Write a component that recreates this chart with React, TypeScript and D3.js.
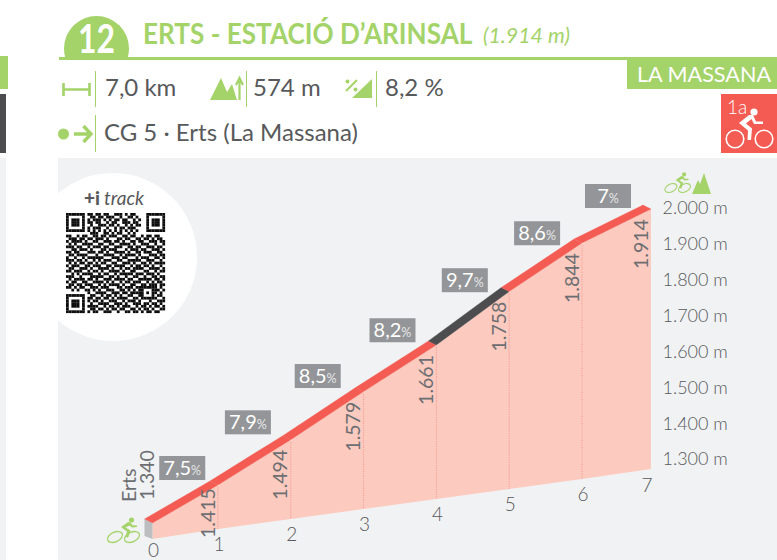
import React from "react";
import * as d3 from "d3";

const kms = [0, 1, 2, 3, 4, 5, 6, 7];
const elevations = [1340, 1415, 1494, 1579, 1661, 1758, 1844, 1914];
const elevationLabels = ["1.340", "1.415", "1.494", "1.579", "1.661", "1.758", "1.844", "1.914"];
const gradients = ["7,5", "7,9", "8,5", "8,2", "9,7", "8,6", "7"];
const axisValues = [2000, 1900, 1800, 1700, 1600, 1500, 1400, 1300];
const axisLabels = ["2.000 m", "1.900 m", "1.800 m", "1.700 m", "1.600 m", "1.500 m", "1.400 m", "1.300 m"];
const hardSegment = 4;

const qrRows = [
  "0000000011011011001110101100000000000",
  "0000000001101101110010011010000000000",
  "0000000010111010101101100101000000000",
  "0000000011011001011001110110000000000",
  "0000000001001110110100101011000000000",
  "0000000010111001001011011100000000000",
  "0000000010101010101010101010000000000",
  "0000000001110011010110010100000000000",
  "1100101100110110111001101100101101100",
  "0111011011011101000110110011011010110",
  "1011110100110011101101001101100111011",
  "0101001111001100110011110100111001001",
  "1110110010111011001110011011001110110",
  "0011011101000110111000101110110011101",
  "1101100011101101001111010011011100110",
  "0110111100010011110010111101000111011",
  "1001001011111100011101100010111001101",
  "1110110100101011100110011111001110010",
  "0101011011010110011001110100110101111",
  "1011100110111001101111001011011010010",
  "0110011101001111010010110111100111101",
  "1101110010110100111101001100011001011",
  "0010101111001011001011111011101110100",
  "1110010001111100110100100110010011011",
  "0101111011010011101111011001111101101",
  "1011001100111101010010110111001010110",
  "0110110111001010111101001100110111011",
  "1101011001110111000110111011111111010",
  "0010100110101001110011010101100011101",
  "0000000010011110011101101111101011010",
  "0000000001100101101010011001100010110",
  "0000000011011011010111100110111111001",
  "0000000010110100111001011101000100111",
  "0000000001001111001110100111011011010",
  "0000000011110010110101110010110101101",
  "0000000001101101011011001101011010011",
  "0000000010110011100100110110101101100",
];

const GREEN = "#A4D369";
const RED = "#F45B52";
const TEXT = "#58595B";
const FONT = "Lato, sans-serif";

const xKm = d3.scaleLinear().domain([0, 1, 6, 7]).range([152.5, 218, 582, 651]);
const baseY = d3.scaleLinear().domain([0, 7]).range([539, 469]);
const lift = d3.scaleLinear().domain([1340, 1415, 1844, 1914]).range([16, 44, 236, 260]);
const axisY = d3.scaleLinear().domain([1300, 2000]).range([459, 208]);
const topY = (i: number) => baseY(kms[i]) - lift(elevations[i]);
const BACK: [number, number] = [-8, -4];
const boxDx = [-3, -6.5, -9.5, -7.5, -8, -8.5, -8.5];
const boxDy = [-36, -40, -39.6, -38, -38, -34, -30];

function Bike({ x, y, s = 1, color = GREEN, sw = 1.3 }: any) {
  const wheel = (cx: number) => (
    <ellipse cx={cx} cy={20} rx={8} ry={4.8} transform={`rotate(-25 ${cx} 20)`} fill="none" stroke={color} strokeWidth={sw} />
  );
  return (
    <g transform={`translate(${x},${y}) scale(${s})`}>
      {wheel(8)}
      {wheel(25)}
      <circle cx={24.5} cy={3} r={2.6} fill={color} />
      <path d="M21 5 L14 10 L20 14.5 L18.5 20 L21.2 20.5 L23.5 13.5 L18.5 10.5 L22.5 8.5 L25 10.5 L30 10 L30 8.5 L25.5 8.3 L23.5 5.5 Z" fill={color} />
    </g>
  );
}

function Qr() {
  const n = qrRows.length;
  const sx = d3.scaleBand<number>().domain(d3.range(n)).range([66, 165]);
  const sy = d3.scaleBand<number>().domain(d3.range(n)).range([213, 313]);
  const isFinder = (r: number, c: number) => {
    if (r < 0 || c < 0 || r > 7 || c > 7) return null;
    if (r === 7 || c === 7) return false;
    if (r === 0 || c === 0 || r === 6 || c === 6) return true;
    return r >= 2 && r <= 4 && c >= 2 && c <= 4;
  };
  const cells: React.ReactNode[] = [];
  qrRows.forEach((row, r) => {
    row.split("").forEach((ch, c) => {
      let on = ch === "1";
      const a = isFinder(r, c);
      const b = isFinder(r, n - 1 - c);
      const d = isFinder(n - 1 - r, c);
      const f = a !== null ? a : b !== null ? b : d !== null ? d : null;
      if (f !== null) on = f;
      if (on) cells.push(<rect key={`${r}-${c}`} x={sx(c)} y={sy(r)} width={sx.bandwidth() + 0.1} height={sy.bandwidth() + 0.1} fill="#111" />);
    });
  });
  return <g filter="url(#qrblur)">{cells}</g>;
}

export default function App() {
  const fillArea = d3.area<number>().x((i) => xKm(kms[i])).y0((i) => baseY(kms[i])).y1((i) => topY(i));
  const poly = d3.line<[number, number]>();
  const bandPath = (i: number) => {
    const p0: [number, number] = [xKm(kms[i]), topY(i)];
    const p1: [number, number] = [xKm(kms[i + 1]), topY(i + 1)];
    return poly([p0, p1, [p1[0] + BACK[0], p1[1] + BACK[1]], [p0[0] + BACK[0], p0[1] + BACK[1]]]) + "Z";
  };
  const x0 = xKm(0), t0 = topY(0), b0 = baseY(0);
  const faceBack: [number, number][] = [[x0 + BACK[0], t0 + BACK[1]], [x0, t0], [x0, b0], [x0 + BACK[0], b0 - 3]];
  return (
    <svg width={777} height={560} style={{ position: "absolute", left: 0, top: 0, fontFamily: FONT }}>
      <defs>
        <clipPath id="panel"><rect x={58} y={158} width={719} height={402} /></clipPath>
        <clipPath id="head"><rect x={55} y={0} width={90} height={57} /></clipPath>
        <filter id="qrblur" x="-5%" y="-5%" width="110%" height="110%"><feGaussianBlur stdDeviation={0.75} /></filter>
      </defs>
      <rect width={777} height={560} fill="#fff" />

      <rect x={0} y={56} width={8} height={33} fill={GREEN} />
      <rect x={0} y={94} width={6} height={59} fill="#4D4D4F" />
      <rect x={0} y={158} width={6} height={402} fill="#F1F2F4" />

      <circle cx={96.5} cy={48.5} r={32.5} fill={GREEN} clipPath="url(#head)" />
      <text x={78} y={53} fontSize={41} fontWeight={700} fill="#fff" textLength={37} lengthAdjust="spacingAndGlyphs">12</text>
      <rect x={59} y={57} width={718} height={3} fill={GREEN} />
      <text transform="translate(143,43.5) scale(0.886,1)" fontSize={29.5} fontWeight={700} fill={GREEN}>ERTS - ESTACIÓ D’ARINSAL</text>
      <text x={483} y={43} fontSize={22} fontStyle="italic" fill={GREEN} textLength={87} lengthAdjust="spacingAndGlyphs">(1.914 m)</text>
      <rect x={627} y={60} width={150} height={29} fill={GREEN} />
      <text x={637} y={82} fontSize={22} fill="#fff" textLength={134} lengthAdjust="spacingAndGlyphs">LA MASSANA</text>

      <g stroke={GREEN} strokeWidth={1}>
        <line x1={95.5} x2={95.5} y1={71} y2={107} />
        <line x1={95.5} x2={95.5} y1={115} y2={152} />
        <line x1={246.5} x2={246.5} y1={71} y2={107} />
        <line x1={376.5} x2={376.5} y1={71} y2={107} />
      </g>
      <path d="M63.5 83 V96 M89.5 83 V96 M63.5 89.5 H89.5" stroke={GREEN} strokeWidth={2.6} fill="none" />
      <circle cx={63.5} cy={134} r={5.5} fill={GREEN} />
      <path d="M74 134 H90 M83.5 126 L91 134 L83.5 142" stroke={GREEN} strokeWidth={3.4} fill="none" />
      <path d="M210 100 L221 78 L227 92 L232 84 L237 100 Z" fill={GREEN} />
      <path d="M239.5 100 V81 M236 85 L239.5 78 L243 85" stroke={GREEN} strokeWidth={2.2} fill="none" />
      <path d="M352 98 L372 79 V98 Z" fill={GREEN} />
      <path d="M346 91 L357 80" stroke={GREEN} strokeWidth={2} />
      <circle cx={347.5} cy={81.5} r={2} fill={GREEN} />
      <circle cx={355.5} cy={89.5} r={2} fill={GREEN} />
      <g fontSize={24} fill={TEXT}>
        <text x={105} y={96}>7,0 km</text>
        <text x={253} y={96}>574 m</text>
        <text x={385} y={96}>8,2 %</text>
        <text x={104} y={140.5}>CG 5 · Erts (La Massana)</text>
      </g>

      <rect x={721} y={94} width={56} height={59} fill={RED} />
      <text x={727} y={114} fontSize={19} fontWeight={300} fill="#fff">1a</text>
      <g transform="translate(723,105)">
        <circle cx={12} cy={34} r={8.8} fill="none" stroke="#fff" strokeWidth={1.6} />
        <circle cx={41} cy={34} r={8.8} fill="none" stroke="#fff" strokeWidth={1.6} />
        <circle cx={31} cy={7} r={3.6} fill="#fff" />
        <path d="M26 10 L16 18 L25 25.5 L24.5 35 L28 35 L29 23.5 L23 18.5 L28.5 14 L31 19 L40 19 L40 16.5 L33 16.5 L30 10 Z" fill="#fff" />
      </g>

      <rect x={58} y={158} width={719} height={402} fill="#F1F2F4" />
      <circle cx={113} cy={257} r={84} fill="#fff" clipPath="url(#panel)" />
      <text x={84} y={205} fontSize={19} fill={TEXT}>
        <tspan fontWeight={900}>+i</tspan>
        <tspan dx={4} fontStyle="italic">track</tspan>
      </text>
      <Qr />

      <path d={fillArea(kms.map((_, i) => i)) ?? ""} fill="#FCCABF" />
      {kms.slice(1, 7).map((k, idx) => (
        <g key={k}>
          <line x1={xKm(k)} x2={xKm(k)} y1={topY(idx + 1)} y2={baseY(k)} stroke="#F79C92" strokeWidth={1} strokeDasharray="1.2 1.2" />
          <circle cx={xKm(k)} cy={topY(idx + 1)} r={0.9} fill="#fff" />
        </g>
      ))}
      <path d={poly(faceBack) + "Z"} fill="#BCBEC0" />
      {gradients.map((_, i) => (
        <path key={i} d={bandPath(i)} fill={i === hardSegment ? "#4D4D4F" : RED} stroke={i === hardSegment ? "#4D4D4F" : RED} strokeWidth={0.3} />
      ))}

      {gradients.map((g, i) => {
        const cx = (xKm(kms[i]) + xKm(kms[i + 1])) / 2 + boxDx[i];
        const cy = (topY(i) + topY(i + 1)) / 2 + boxDy[i];
        return (
          <g key={g + i}>
            <rect x={cx - 23} y={cy - 12} width={46} height={24} fill="#939598" />
            <text x={cx} y={cy + 7} textAnchor="middle" fontSize={20} fill="#fff">
              {g}<tspan fontSize={12.5} fill="#E6E7E8">%</tspan>
            </text>
          </g>
        );
      })}

      {elevationLabels.map((l, i) => {
        const tx = i === 0 ? 146.5 : xKm(kms[i]) - 11;
        const ty = i === 0 ? 500 : topY(i) + (i === 1 ? 53 : 60);
        return (
          <text key={l} transform={`translate(${tx},${ty}) rotate(-90)`} fontSize={19.5} fill="#6D6E71" dominantBaseline="central">{l}</text>
        );
      })}
      <text transform="translate(128,502) rotate(-90)" fontSize={19.5} fill="#6D6E71" dominantBaseline="central">Erts</text>

      {kms.map((k) => (
        <text key={k} x={k === 7 ? xKm(k) - 4 : xKm(k) + 1} y={baseY(k) + (k === 0 ? 18 : k === 7 ? 23 : 21.5)} textAnchor="middle" fontSize={19} fill={TEXT} fontWeight={300}>{k}</text>
      ))}

      {axisValues.map((v, i) => (
        <text key={v} x={662.5} y={axisY(v)} dy="0.36em" fontSize={18} fill={TEXT} fontWeight={300}>{axisLabels[i]}</text>
      ))}
      <Bike x={664.5} y={172} s={0.8} />
      <path d="M692 194 L698 180 L700 184 L704 173 L711 194 Z" fill={GREEN} />
      <Bike x={107} y={517} s={1} />
    </svg>
  );
}
